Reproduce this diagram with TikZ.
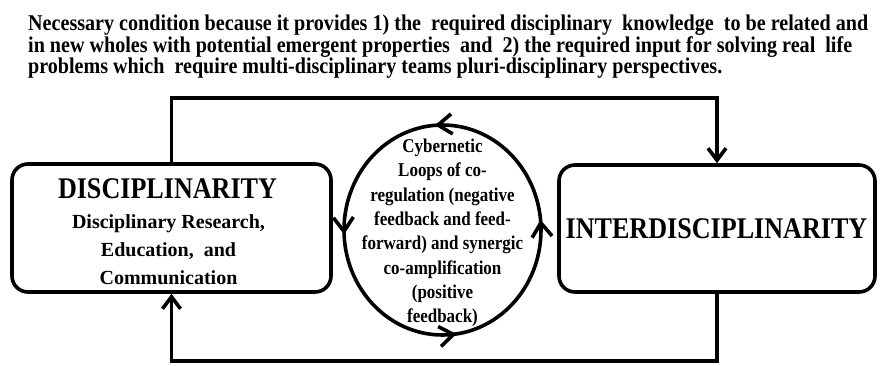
\documentclass[tikz,border=0pt]{standalone}
\usepackage{graphicx}
\usepackage{fontspec}
\setmainfont{Liberation Serif}[FakeStretch=0.87]
\newfontfamily\plainserif{Liberation Serif}
\usetikzlibrary{arrows.meta,decorations.markings}
\tikzset{
  lw/.style={line width=3.6pt},
  boxnode/.style={draw, lw, rounded corners=16pt, inner sep=0pt},
  conn/.style={lw, line join=miter},
  barb/.tip={Straight Barb[length=12pt,width=18pt]},
  loopbarb/.tip={Straight Barb[length=14pt,width=20pt]},
  titletxt/.style={font=\fontsize{22.5}{22.5}\selectfont\bfseries, inner sep=0pt, anchor=base west},
  bigtxt/.style={font=\fontsize{30}{30}\selectfont\bfseries, inner sep=0pt, anchor=base},
  subtxt/.style={font=\plainserif\fontsize{20}{20}\selectfont\bfseries, inner sep=0pt, anchor=base},
  looptxt/.style={font=\fontsize{19.5}{24.3}\selectfont\bfseries, inner sep=0pt, align=center}
}
\begin{document}
\begin{tikzpicture}[x=1pt,y=1pt]
\useasboundingbox (0,0) rectangle (881,365);
% title
\node[titletxt] (t1) at (28,334) {\resizebox{840pt}{\height}{Necessary condition because it provides 1) the\ \ required disciplinary\ \ knowledge\ \ to be related and}};
\node[titletxt] (t2) at (28,312) {\resizebox{824pt}{\height}{in new wholes with potential emergent properties\ \ and\ \ 2) the required input for solving real\ \ life}};
\node[titletxt] (t3) at (28,291) {\resizebox{694pt}{\height}{problems which\ \ require multi-disciplinary teams pluri-disciplinary perspectives.}};
% boxes
\node[boxnode, minimum width=319pt, minimum height=128pt] (lbox) at (171.5,137) {};
\node[boxnode, minimum width=316pt, minimum height=127pt] (rbox) at (717,136.5) {};
\node[bigtxt] (ltitle) at (167.5,167) {DISCIPLINARITY};
\node[subtxt] (ls1) at (168.5,137) {Disciplinary Research,};
\node[subtxt] (ls2) at (168.5,109) {Education,\ \ and};
\node[subtxt] (ls3) at (168.5,81) {Communication};
\node[bigtxt] (rtitle) at (716.5,127) {INTERDISCIPLINARITY};
% loop
\coordinate (loopc) at (442.5,135);
\draw[lw, postaction={decorate}, decoration={markings,
  mark=at position 0.016 with {\arrow{loopbarb}},
  mark=at position 0.262 with {\arrow{loopbarb}},
  mark=at position 0.507 with {\arrow{loopbarb}},
  mark=at position 0.772 with {\arrow{loopbarb}}}]
  (loopc) ellipse [x radius=98.5, y radius=105];
\node[looptxt] (loop) at (442.5,132) {Cybernetic\\Loops of co-\\regulation (negative\\feedback and feed-\\forward) and synergic\\co-amplification\\(positive\\feedback)};
% connectors
\draw[conn, -{barb}] (lbox.north) -- ++(0,64) -| (rbox.north);
\draw[conn, -{barb}] (rbox.south) -- ++(0,-67) -| (lbox.south);
\end{tikzpicture}
\end{document}
